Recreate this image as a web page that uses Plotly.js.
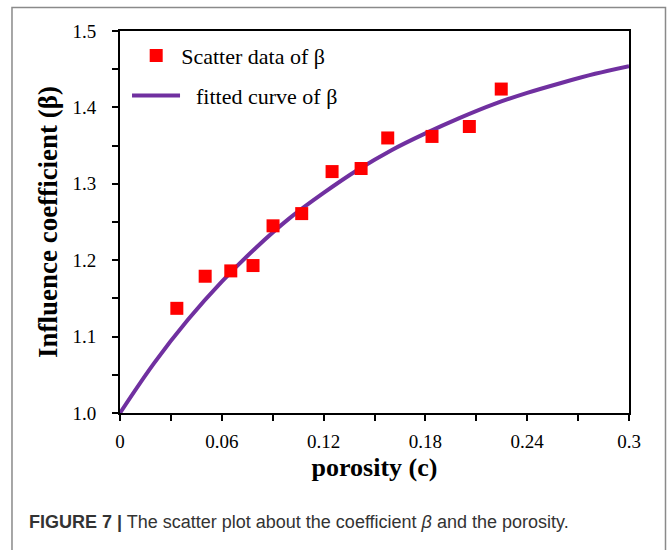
<!DOCTYPE html>
<html>
<head>
<meta charset="utf-8">
<script src="https://cdn.plot.ly/plotly-3.0.1.min.js"></script>
<style>
  html, body { margin: 0; padding: 0; background: #ffffff; }
  #chart { width: 667px; height: 550px; }
</style>
</head>
<body>
<div id="chart"></div>
<script>
// Measured porosity and influence coefficient
const porosity = [0.0335, 0.0502, 0.0653, 0.0784, 0.0902, 0.1071, 0.1250, 0.1421, 0.1578, 0.1839, 0.2059, 0.2247];
const beta     = [1.137, 1.179, 1.186, 1.193, 1.245, 1.261, 1.316, 1.320, 1.360, 1.362, 1.375, 1.424];

// Fitted curve, sampled along porosity
const fitPorosity = [0, 0.02, 0.04, 0.06, 0.08, 0.10, 0.12, 0.14, 0.16, 0.18, 0.20, 0.22, 0.24, 0.26, 0.28, 0.30];
const fitBeta     = [1.000, 1.065, 1.122, 1.172, 1.216, 1.255, 1.288, 1.318, 1.344, 1.366, 1.386, 1.404, 1.419, 1.432, 1.444, 1.454];

// Axis ticks
const xTickVals = [0, 0.06, 0.12, 0.18, 0.24, 0.3];
const xTickText = ['0', '0.06', '0.12', '0.18', '0.24', '0.3'];
const yTickVals = [1.0, 1.1, 1.2, 1.3, 1.4, 1.5];
const yTickText = ['1.0', '1.1', '1.2', '1.3', '1.4', '1.5'];

const serif = 'Liberation Serif, Times New Roman, serif';

const traces = [
  {
    type: 'scatter', mode: 'lines',
    x: fitPorosity, y: fitBeta,
    name: '\u00a0\u00a0fitted curve of β',
    line: { color: '#7030A0', width: 4, shape: 'spline', smoothing: 1 },
    legend: 'legend2',
    hoverinfo: 'skip'
  },
  {
    type: 'scatter', mode: 'markers',
    x: porosity, y: beta,
    name: 'Scatter data of β',
    marker: { symbol: 'square', color: '#FF0000', size: 13 },
    legend: 'legend'
  }
];

const axisCommon = {
  showgrid: false, zeroline: false,
  showline: true, linecolor: '#000', linewidth: 2, mirror: true,
  ticks: 'outside', ticklen: 6, tickwidth: 2, tickcolor: '#000',
  tickfont: { family: serif, size: 19, color: '#000' }
};

const layout = {
  width: 667, height: 550,
  margin: { l: 120, r: 38, t: 31, b: 137 },
  paper_bgcolor: '#ffffff', plot_bgcolor: '#ffffff',
  xaxis: Object.assign({}, axisCommon, {
    range: [0, 0.3],
    tickmode: 'array', tickvals: xTickVals, ticktext: xTickText,
    minor: { dtick: 0.03, tick0: 0, ticks: 'outside', ticklen: 6, tickwidth: 2, tickcolor: '#000' },
    ticklabelstandoff: 4,
    title: { text: '<b>porosity (c)</b>', font: { family: serif, size: 26, color: '#000' }, standoff: 7 }
  }),
  yaxis: Object.assign({}, axisCommon, {
    range: [1.0, 1.5],
    tickmode: 'array', tickvals: yTickVals, ticktext: yTickText,
    minor: { dtick: 0.05, tick0: 1.0, ticks: 'outside', ticklen: 6, tickwidth: 2, tickcolor: '#000' },
    ticklabelstandoff: 12,
    title: { text: '<b>Influence coefficient (β)</b>', font: { family: serif, size: 27, color: '#000' }, standoff: 7 }
  }),
  showlegend: true,
  legend: {
    x: 0.022, y: 0.99, xanchor: 'left', yanchor: 'top',
    bgcolor: 'rgba(0,0,0,0)', borderwidth: 0,
    itemwidth: 40,
    font: { family: serif, size: 22, color: '#000' }
  },
  legend2: {
    x: 0.0138, y: 0.8855, xanchor: 'left', yanchor: 'top',
    bgcolor: 'rgba(0,0,0,0)', borderwidth: 0,
    itemwidth: 48,
    font: { family: serif, size: 22, color: '#000' }
  },
  shapes: [
    // outer figure frame
    { type: 'rect', xref: 'paper', yref: 'paper',
      x0: -0.2122, x1: 1.0717, y0: -0.37, y1: 1.0615,
      line: { color: '#8a8a8a', width: 1.5 }, fillcolor: 'rgba(0,0,0,0)', layer: 'below' }
  ],
  annotations: [
    { xref: 'paper', yref: 'paper', x: -0.1827, y: -0.2853,
      xanchor: 'left', yanchor: 'middle', showarrow: false,
      text: '<b>FIGURE 7 |</b> The scatter plot about the coefficient <i>β</i> and the porosity.',
      font: { family: 'Liberation Sans, Arial, sans-serif', size: 18, color: '#333' } }
  ]
};

Plotly.newPlot('chart', traces, layout, { displayModeBar: false, staticPlot: true });
</script>
</body>
</html>
